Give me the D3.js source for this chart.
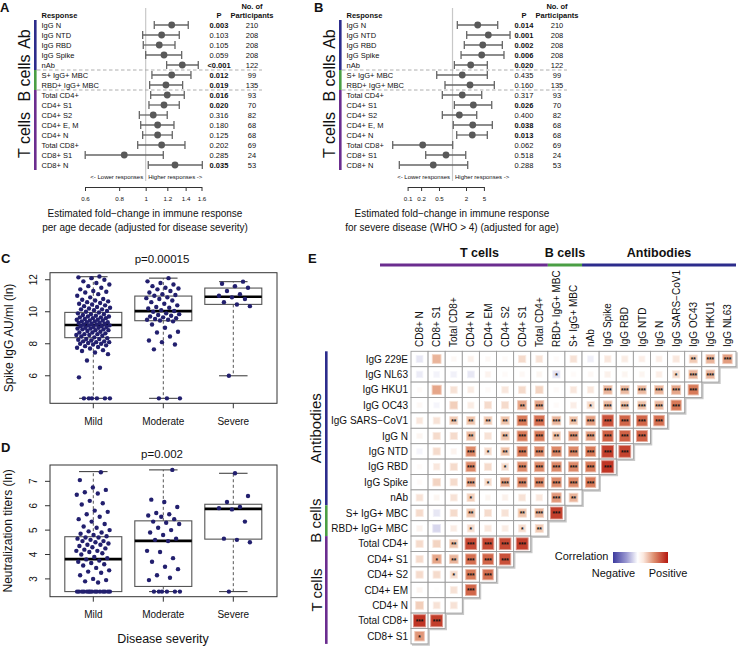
<!DOCTYPE html>
<html><head><meta charset="utf-8">
<script src="https://cdn.jsdelivr.net/npm/d3@7"></script>
<style>body{margin:0;background:#fff}svg{font-family:"Liberation Sans",Arial,Helvetica,sans-serif}</style>
</head><body><svg id="chart" width="738" height="648"></svg>
<script>
// ---------------- DATA ----------------
const responses = ["IgG N","IgG NTD","IgG RBD","IgG Spike","nAb","S+ IgG+ MBC","RBD+ IgG+ MBC","Total CD4+","CD4+ S1","CD4+ S2","CD4+ E, M","CD4+ N","Total CD8+","CD8+ S1","CD8+ N"];
const participants = [210,208,208,208,122,99,135,93,70,82,68,68,69,24,53];
const responseGroups = [{name:"Ab",from:0,to:4},{name:"B cells",from:5,to:6},{name:"T cells",from:7,to:14}];

// Panel A: fold change per age decade
const ageEst  = [1.245,1.144,1.121,1.167,1.361,1.245,1.186,1.199,1.167,1.066,1.106,1.106,1.144,0.835,1.280];
const ageLow  = [1.075,0.975,0.980,1.000,1.193,1.054,1.034,1.043,1.028,0.948,0.959,0.975,0.935,0.601,1.022];
const ageHigh = [1.431,1.327,1.280,1.354,1.557,1.464,1.365,1.384,1.327,1.199,1.269,1.251,1.392,1.160,1.611];
const ageP = ["0.003","0.103","0.105","0.059","<0.001","0.012","0.019","0.016","0.020","0.316","0.180","0.125","0.202","0.285","0.035"];
const ageTicks = [0.6,0.8,1,1.2,1.4,1.6];

// Panel B: fold change for severe disease
const sevEst  = [3.64,6.27,4.71,4.47,2.54,1.65,2.45,1.65,2.91,1.42,2.82,2.76,0.217,0.717,0.373];
const sevLow  = [1.28,2.07,1.83,1.55,1.10,0.445,0.68,0.593,1.10,0.593,1.04,1.24,0.0466,0.253,0.0654];
const sevHigh = [10.15,19.1,12.86,14.0,5.96,5.96,8.53,4.47,7.47,3.46,7.70,5.96,1.01,1.97,2.18];
const sevP = ["0.014","0.001","0.002","0.006","0.020","0.435","0.160","0.317","0.026","0.400","0.038","0.013","0.062","0.518","0.288"];
const sevTicks = [0.1,0.2,0.5,2,5];

// Panels C, D
const severities = ["Mild","Moderate","Severe"];
const spikeQ1 = [8.38,9.44,10.46], spikeMed = [9.17,10.04,10.94], spikeQ3 = [9.96,10.98,11.48];
const spikeMin = [4.59,4.59,6.0], spikeMax = [12.19,12.10,11.88];
const spikeMild = [4.59,4.59,4.59,4.59,4.59,4.59,5.9,6.5,6.95,7.35,7.45,7.55,7.6,7.7,7.75,7.8,7.85,7.9,7.95,8.0,8.0,8.05,8.1,8.1,8.15,8.15,8.2,8.25,8.3,8.3,8.35,8.4,8.45,8.5,8.55,8.55,8.6,8.6,8.65,8.7,8.7,8.75,8.8,8.85,8.85,8.9,8.9,8.95,8.95,9.0,9.0,9.05,9.05,9.1,9.1,9.15,9.15,9.2,9.2,9.25,9.25,9.3,9.3,9.35,9.35,9.4,9.4,9.45,9.45,9.5,9.5,9.55,9.6,9.6,9.65,9.65,9.7,9.7,9.75,9.8,9.85,9.85,9.9,9.95,10.0,10.05,10.1,10.15,10.15,10.2,10.25,10.3,10.35,10.4,10.45,10.5,10.55,10.6,10.65,10.7,10.75,10.8,10.9,11.0,11.1,11.2,11.25,11.3,11.4,11.5,11.6,11.7,11.8,11.9,12.0,12.1,12.15,12.2];
const spikeModerate = [4.59,4.59,4.59,7.65,7.95,8.1,8.2,8.45,8.7,8.75,9.0,9.2,9.4,9.45,9.5,9.5,9.55,9.6,9.65,9.7,9.75,9.8,9.85,9.9,10.0,10.05,10.1,10.2,10.25,10.3,10.4,10.5,10.6,10.7,10.8,10.85,10.9,11.0,11.05,11.1,11.2,11.3,11.4,11.45,11.5,11.6,11.7,11.8,11.9,12.1];
const spikeSevere = [6.0,10.35,10.45,10.6,10.8,10.9,11.0,11.1,11.3,11.5,11.6,11.75,11.88];

const nabQ1 = [2.48,2.69,4.63], nabMed = [3.81,4.56,5.87], nabQ3 = [4.73,5.38,6.06];
const nabMin = [2.48,2.48,2.48], nabMax = [7.40,7.47,7.33];
const nabMild = [2.48,2.48,2.48,2.48,2.48,2.48,2.48,2.48,2.48,2.48,2.48,2.48,2.48,2.48,2.48,2.85,2.9,2.95,3.0,3.15,3.25,3.3,3.35,3.45,3.55,3.6,3.65,3.7,3.75,3.8,3.85,3.9,4.0,4.05,4.1,4.15,4.15,4.2,4.25,4.3,4.35,4.4,4.4,4.45,4.5,4.55,4.55,4.6,4.65,4.7,4.7,4.75,4.8,4.85,4.9,4.95,5.0,5.1,5.15,5.25,5.35,5.45,5.55,5.65,5.75,5.8,6.05,6.1,6.2,6.45,6.5,6.55,6.65,6.75,7.05,7.37];
const nabModerate = [2.48,2.48,2.48,2.48,2.48,2.48,2.95,3.05,3.15,3.4,3.5,3.7,3.85,4.1,4.15,4.55,4.6,4.65,4.8,4.9,5.0,5.1,5.25,5.3,5.35,5.45,5.55,5.6,5.65,5.7,5.95,6.15,6.25,7.47];
const nabSevere = [2.48,4.5,4.6,4.65,5.35,5.85,5.9,5.95,6.15,6.4,7.33];

// Panel E
const corrCols = ["CD8+ N","CD8+ S1","Total CD8+","CD4+ N","CD4+ EM","CD4+ S2","CD4+ S1","Total CD4+","RBD+ IgG+ MBC","S+ IgG+ MBC","nAb","IgG Spike","IgG RBD","IgG NTD","IgG N","IgG SARS\u2212CoV1","IgG OC43","IgG HKU1","IgG NL63"];
const corrRowLabels = ["IgG 229E","IgG NL63","IgG HKU1","IgG OC43","IgG SARS\u2212CoV1","IgG N","IgG NTD","IgG RBD","IgG Spike","nAb","S+ IgG+ MBC","RBD+ IgG+ MBC","Total CD4+","CD4+ S1","CD4+ S2","CD4+ EM","CD4+ N","Total CD8+","CD8+ S1"];
const colGroups = [{name:"T cells",from:0,to:7},{name:"B cells",from:8,to:9},{name:"Antibodies",from:10,to:18}];
const rowGroups = [{name:"Antibodies",from:0,to:9},{name:"B cells",from:10,to:11},{name:"T cells",from:12,to:18}];
const corrValues = [
 [-0.12,0.30,0.03,0.06,0.03,0.02,0.15,0.12,0.02,0.12,-0.08,0.10,0.08,0.07,0.07,0.10,0.22,0.30,0.38],
 [-0.10,-0.06,-0.07,-0.12,0.05,0.02,0.03,0.04,-0.15,0.02,0.03,0.06,0.04,0.04,0.07,0.15,0.30,0.30],
 [0.02,0.35,0.12,0.08,0.02,0.10,0.15,0.18,0.02,0.10,0.10,0.30,0.28,0.28,0.30,0.35,0.50],
 [0.03,-0.05,0.20,0.08,0.15,0.15,0.35,0.35,0.02,0.07,0.15,0.28,0.25,0.25,0.28,0.50],
 [0.10,0.12,0.22,0.25,0.22,0.25,0.50,0.55,0.30,0.25,0.38,0.70,0.60,0.60,0.55],
 [0.04,0.15,0.15,0.28,0.12,0.25,0.50,0.50,0.25,0.40,0.38,0.62,0.62,0.62],
 [-0.05,0.15,0.05,0.45,0.15,0.25,0.50,0.45,0.45,0.45,0.50,0.80,0.78],
 [0.02,0.10,0.15,0.45,0.15,0.15,0.45,0.45,0.45,0.45,0.50,0.85],
 [0.02,0.18,0.15,0.35,0.15,0.35,0.45,0.45,0.45,0.45,0.50],
 [0.12,0.04,0.12,0.20,0.04,0.06,0.12,0.10,0.40,0.30],
 [0.15,-0.12,0.15,0.25,0.15,0.12,0.25,0.30,0.80],
 [0.05,-0.20,0.08,0.15,0.10,0.08,0.15,0.22],
 [0.15,0.18,0.25,0.75,0.75,0.75,0.80],
 [0.15,0.35,0.30,0.55,0.60,0.70],
 [0.15,0.15,0.15,0.50,0.55],
 [0.04,0.01,0.12,0.60],
 [0.20,0.12,0.12],
 [0.85,0.80],
 [0.40]
];
const corrStars = [
 [0,0,0,0,0,0,0,0,0,0,0,0,0,0,0,0,2,3,3],
 [0,0,0,0,0,0,0,0,1,0,0,0,0,0,0,1,3,3],
 [0,0,0,0,0,0,0,0,0,0,0,3,3,3,3,3,3],
 [0,0,0,0,0,0,2,3,0,0,1,3,3,3,3,3],
 [0,0,2,2,2,2,3,3,3,2,3,3,3,3,3],
 [0,0,0,2,0,2,3,3,2,3,3,3,3,3],
 [0,0,0,3,1,2,3,3,3,3,3,3,3],
 [0,0,0,3,0,1,3,3,3,3,3,3],
 [0,0,0,3,1,3,3,3,3,3,3],
 [0,0,0,1,0,0,0,0,3,2],
 [0,0,0,2,0,0,2,3,3],
 [0,0,0,1,0,0,1,2],
 [0,0,2,3,3,3,3],
 [0,1,2,3,3,3],
 [0,0,1,3,3],
 [0,0,0,3],
 [0,0,0],
 [3,3],
 [1]
];

// ---------------- STYLE ----------------
const groupColor = {"Ab":"#2c2c8c","Antibodies":"#2c2c8c","B cells":"#4a9e44","T cells":"#6b2d8f"};
const dotColor = "#221f6e";
const svg = d3.select("#chart");

function txt(g,x,y,s,o={}){
  const t=g.append("text").attr("x",x).attr("y",y).text(s)
    .attr("font-size",o.size||10).attr("fill",o.fill||"#111");
  if(o.anchor) t.attr("text-anchor",o.anchor);
  if(o.bold) t.attr("font-weight","bold");
  if(o.rot) t.attr("transform",`rotate(-90 ${x} ${y})`);
  return t;
}

// ---------------- FOREST PANELS ----------------
function forest(ox, letter, letterX, scale, est, low, high, pv, ticks, title2, titleX){
  const g = svg.append("g");
  const yRow = d3.scalePoint().domain(d3.range(responses.length)).range([25,165]);
  const rx = scale(1);
  txt(g, letterX, 12, letter, {size:13, bold:true});
  txt(g, 41.5+ox, 17.5, "Response", {size:7.5, bold:true});
  txt(g, 219+ox, 17.5, "P", {size:7.5, bold:true, anchor:"middle"});
  txt(g, 252+ox, 8.5, "No. of", {size:7.5, bold:true, anchor:"middle"});
  txt(g, 252+ox, 17.5, "Participants", {size:7.5, bold:true, anchor:"middle"});
  g.append("line").attr("x1",rx).attr("x2",rx).attr("y1",8).attr("y2",181)
    .attr("stroke","#c8c8c8").attr("stroke-width",1.2);
  const step = yRow.step();
  const labelCenter = {"Ab":39,"B cells":78,"T cells":135};
  responseGroups.forEach((gr,k)=>{
    const y0 = yRow(gr.from)-step/2, y1 = yRow(gr.to)+step/2;
    g.append("rect").attr("x",34+ox).attr("y",y0).attr("width",2.6).attr("height",y1-y0)
      .attr("fill",groupColor[gr.name]);
    if(k>0) g.append("line").attr("x1",37+ox).attr("x2",262+ox).attr("y1",y0).attr("y2",y0)
      .attr("stroke","#a5a5a5").attr("stroke-dasharray","3.5,2.5").attr("stroke-width",0.9);
    txt(g, 30+ox, labelCenter[gr.name], gr.name, {size:16, anchor:"middle", rot:true});
  });
  responses.forEach((r,i)=>{
    const y=yRow(i);
    txt(g, 41.5+ox, y+2.7, r, {size:7.5});
    const pnum = parseFloat(pv[i].replace("<",""));
    txt(g, 219+ox, y+2.7, pv[i], {size:7.5, anchor:"middle", bold:pnum<0.05});
    txt(g, 252+ox, y+2.7, participants[i], {size:7.5, anchor:"middle"});
    const x0=scale(low[i]), x1=scale(high[i]);
    g.append("line").attr("x1",x0).attr("x2",x1).attr("y1",y).attr("y2",y).attr("stroke","#666").attr("stroke-width",1.3);
    [x0,x1].forEach(xx=>g.append("line").attr("x1",xx).attr("x2",xx).attr("y1",y-4).attr("y2",y+4).attr("stroke","#666").attr("stroke-width",1.3));
    g.append("circle").attr("cx",scale(est[i])).attr("cy",y).attr("r",3.4).attr("fill","#595959");
  });
  txt(g, rx-2.5, 178.5, "<- Lower responses", {size:6, anchor:"end"});
  txt(g, rx+2.5, 178.5, "Higher responses ->", {size:6});
  const ax = g.append("g").attr("transform","translate(0,187)")
    .call(d3.axisBottom(scale).tickValues(ticks).tickFormat(d=>String(d)).tickSize(4).tickSizeOuter(0).tickPadding(6));
  ax.selectAll("path,line").attr("stroke","#333");
  ax.selectAll("text").attr("font-size",6.2).attr("fill","#111").attr("font-family","Liberation Sans, Arial, sans-serif");
  txt(g, titleX, 217, "Estimated fold\u2212change in immune response", {size:10, anchor:"middle"});
  txt(g, titleX, 230.5, title2, {size:10, anchor:"middle"});
}
forest(0, "A", 0, d3.scaleLog().domain([0.6,1.6]).range([85,201.5]),
  ageEst, ageLow, ageHigh, ageP, ageTicks, "per age decade (adjusted for disease severity)", 145);
forest(305, "B", 314, d3.scaleLog().domain([0.1,5]).range([407.6,483.9]),
  sevEst, sevLow, sevHigh, sevP, sevTicks, "for severe disease (WHO > 4) (adjusted for age)", 452);

// ---------------- BOX PANELS ----------------
function boxPanel(o){
  const g = svg.append("g");
  const x = d3.scalePoint().domain(severities).range([93.3,233.3]);
  const y = d3.scaleLinear().domain(o.domain).range([o.bottom,o.top]);
  const bw = 57;
  txt(g, 1, o.letterY, o.letter, {size:13, bold:true});
  txt(g, 162, o.pY, o.pText, {size:11.5, anchor:"middle"});
  severities.forEach((s,k)=>{
    const cx=x(s);
    [[o.q3[k],o.max[k]],[o.q1[k],o.min[k]]].forEach(([a,b])=>{
      if(Math.abs(a-b)<1e-6) return;
      g.append("line").attr("x1",cx).attr("x2",cx).attr("y1",y(a)).attr("y2",y(b))
        .attr("stroke","#555").attr("stroke-dasharray","3,2.5").attr("stroke-width",1);
      g.append("line").attr("x1",cx-bw/4).attr("x2",cx+bw/4).attr("y1",y(b)).attr("y2",y(b))
        .attr("stroke","#444").attr("stroke-width",1.1);
    });
    g.append("rect").attr("x",cx-bw/2).attr("y",y(o.q3[k])).attr("width",bw).attr("height",y(o.q1[k])-y(o.q3[k]))
      .attr("fill","none").attr("stroke","#555").attr("stroke-width",1.1);
    g.append("line").attr("x1",cx-bw/2).attr("x2",cx+bw/2).attr("y1",y(o.med[k])).attr("y2",y(o.med[k]))
      .attr("stroke","#000").attr("stroke-width",2.6);
  });
  o.points.forEach((arr,k)=>{
    const cx=x(severities[k]);
    arr.forEach((v,i)=>{
      const off=(((i*0.618034+0.37)%1)-0.5)*34;
      g.append("circle").attr("cx",cx+off).attr("cy",y(v)).attr("r",2.2).attr("fill",dotColor);
    });
  });
  g.append("rect").attr("x",50).attr("y",o.top).attr("width",227).attr("height",o.bottom-o.top)
    .attr("fill","none").attr("stroke","#333").attr("stroke-width",1);
  o.ticks.forEach(t=>{
    g.append("line").attr("x1",45).attr("x2",50).attr("y1",y(t)).attr("y2",y(t)).attr("stroke","#333");
    txt(g, 37, y(t), t, {size:10, anchor:"middle", rot:true});
  });
  severities.forEach(s=>{
    g.append("line").attr("x1",x(s)).attr("x2",x(s)).attr("y1",o.bottom).attr("y2",o.bottom+5).attr("stroke","#333");
    txt(g, x(s), o.bottom+21.5, s, {size:10, anchor:"middle"});
  });
  txt(g, 12.5, (o.top+o.bottom)/2, o.yTitle, {size:12, anchor:"middle", rot:true});
}
boxPanel({letter:"C", letterY:263, pText:"p=0.00015", pY:263, domain:[4.28,12.44], top:272.7, bottom:403.3,
  q1:spikeQ1, med:spikeMed, q3:spikeQ3, min:spikeMin, max:spikeMax,
  points:[spikeMild,spikeModerate,spikeSevere], ticks:[6,8,10,12], yTitle:"Spike IgG AU/ml (ln)"});
boxPanel({letter:"D", letterY:452, pText:"p=0.002", pY:458, domain:[2.27,7.67], top:465, bottom:596.7,
  q1:nabQ1, med:nabMed, q3:nabQ3, min:nabMin, max:nabMax,
  points:[nabMild,nabModerate,nabSevere], ticks:[3,4,5,6,7], yTitle:"Neutralization titers (ln)"});
txt(svg, 163, 642.5, "Disease severity", {size:12.5, anchor:"middle"});

// ---------------- CORRELATION PANEL ----------------
(function(){
  const g = svg.append("g");
  const cx = d3.scaleBand().domain(d3.range(corrCols.length)).range([411,736]);
  const ry = d3.scaleBand().domain(d3.range(corrRowLabels.length)).range([351.3,643.9]);
  const cw = cx.bandwidth(), ch = ry.bandwidth();
  const color = d3.scaleLinear().domain([-1,-0.5,0,0.25,0.5,1])
    .range(["#3d3a9e","#9d9bd2","#ffffff","#efc3aa","#d87a58","#b5170f"]).clamp(true);
  txt(g, 308, 263, "E", {size:13, bold:true});
  corrCols.forEach((c,j)=>txt(g, cx(j)+cw/2+3.6, 347, c, {size:10, rot:true}));
  corrRowLabels.forEach((r,i)=>txt(g, 408, ry(i)+ch/2+3.6, r, {size:10, anchor:"end"}));
  colGroups.forEach((gr,k)=>{
    const x0 = k===0 ? 380 : cx(gr.from), x1 = cx(gr.to)+cw;
    g.append("rect").attr("x",x0).attr("y",263.5).attr("width",x1-x0).attr("height",3).attr("fill",groupColor[gr.name]);
    txt(g, (cx(gr.from)+cx(gr.to)+cw)/2, 257, gr.name, {size:12.5, bold:true, anchor:"middle"});
  });
  rowGroups.forEach(gr=>{
    const y0=ry(gr.from), y1=ry(gr.to)+ch;
    g.append("rect").attr("x",325).attr("y",y0).attr("width",2.6).attr("height",y1-y0).attr("fill",groupColor[gr.name]);
    txt(g, 321.5, (y0+y1)/2, gr.name, {size:15, anchor:"middle", rot:true});
  });
  corrValues.forEach((row,i)=>{
    const j=row.length-1;
    g.append("path").attr("d",`M${cx(j)+cw+1},${ry(i)+1}V${ry(i)+ch+1}H${cx(0)+1}`)
      .attr("fill","none").attr("stroke","#c9c9c9").attr("stroke-width",1.6);
  });
  corrValues.forEach((row,i)=>{
    row.forEach((v,j)=>{
      const x0=cx(j), y0=ry(i);
      g.append("rect").attr("x",x0).attr("y",y0).attr("width",cw).attr("height",ch)
        .attr("fill","#fff").attr("stroke","#9c9c9c").attr("stroke-width",0.9);
      const s = (ch-2.5)*(0.28+0.72*Math.sqrt(Math.abs(v)));
      const col = color(v);
      g.append("rect").attr("x",x0+cw/2-s/2).attr("y",y0+ch/2-s/2).attr("width",s).attr("height",s)
        .attr("fill",col).attr("stroke",d3.interpolateRgb(col,"#fff")(0.45)).attr("stroke-width",0.9);
      const st = corrStars[i][j];
      if(st>0) txt(g, x0+cw/2, y0+ch/2+3.4, "*".repeat(st), {size:6.5, anchor:"middle", bold:true, fill:"#111"});
    });
  });
  const defs = svg.append("defs");
  const lg = defs.append("linearGradient").attr("id","cg");
  [[0,"#3d3a9e"],[0.25,"#9d9bd2"],[0.45,"#ffffff"],[0.55,"#fbe9df"],[0.75,"#dd8c6c"],[1,"#b5170f"]]
    .forEach(([o,c])=>lg.append("stop").attr("offset",o).attr("stop-color",c));
  g.append("rect").attr("x",613).attr("y",552).attr("width",55).attr("height",11).attr("fill","url(#cg)");
  txt(g, 608.5, 559.5, "Correlation", {size:11, anchor:"end"});
  txt(g, 613.5, 576.5, "Negative", {size:11, anchor:"middle"});
  txt(g, 668, 576.5, "Positive", {size:11, anchor:"middle"});
})();
</script></body></html>
